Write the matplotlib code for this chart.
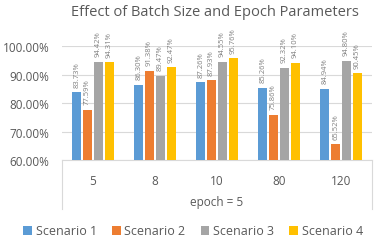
import matplotlib
matplotlib.use("Agg")
import matplotlib.pyplot as plt
import numpy as np

plt.rcParams['font.family'] = ['Open Sans', 'DejaVu Sans']

categories = ["5", "8", "10", "80", "120"]
series_names = ["Scenario 1", "Scenario 2", "Scenario 3", "Scenario 4"]
s1 = [83.73, 86.30, 87.26, 85.26, 84.94]
s2 = [77.59, 91.38, 87.93, 75.86, 65.52]
s3 = [94.42, 89.47, 94.55, 92.32, 94.80]
s4 = [94.31, 92.47, 95.76, 94.10, 90.45]
labels = [
    ["83.73%", "86.30%", "87.26%", "85.26%", "84.94%"],
    ["77.59%", "91.38%", "87.93%", "75.86%", "65.52%"],
    ["94.42%", "89.47%", "94.55%", "92.32%", "94.80%"],
    ["94.31%", "92.47%", "95.76%", "94.10%", "90.45%"],
]
colors = ["#5B9BD5", "#ED7D31", "#A5A5A5", "#FFC000"]
yticks = [60, 70, 80, 90, 100]

W, H = 383, 253
fig = plt.figure(figsize=(W/100, H/100), dpi=100)
ax = fig.add_axes([62/W, 1-161/H, 310/W, 114/H])

x = np.arange(len(categories))
bw = 0.145
step = 0.175
for i, (vals, c) in enumerate(zip([s1, s2, s3, s4], colors)):
    pos = x + (i - 1.5) * step
    ax.bar(pos, np.array(vals) - 60, bw, bottom=60, color=c, label=series_names[i], zorder=3)
    for p, v, t in zip(pos, vals, labels[i]):
        ax.annotate(t, (p, v), xytext=(0, 4), textcoords='offset points',
                    rotation=90, ha='center', va='bottom', fontsize=5.5,
                    color='#7F7F7F', annotation_clip=False)

ax.set_xlim(-0.5, len(categories) - 0.5)
ax.set_ylim(60, 100)
ax.set_yticks(yticks)
ax.set_yticklabels([f"{v:.2f}%" for v in yticks], fontsize=8.5, color='#595959')
ax.set_xticks(x)
ax.set_xticklabels(categories, fontsize=8.5, color='#595959')
ax.tick_params(axis='both', length=0)
ax.tick_params(axis='x', pad=10)
ax.tick_params(axis='y', pad=9)
ax.grid(axis='y', color='#D9D9D9', linewidth=0.8, zorder=0)
for s in ['top', 'right', 'left']:
    ax.spines[s].set_visible(False)
ax.spines['bottom'].set_color('#D9D9D9')

ext = -(210 - 161) / 114
for xa in [0, 1]:
    ax.plot([xa, xa], [0, ext], transform=ax.transAxes, color='#D9D9D9',
            linewidth=0.8, clip_on=False)
ax.text(0.5, -(203 - 161) / 114, "epoch = 5", transform=ax.transAxes,
        ha='center', va='center', fontsize=8.5, color='#595959')

fig.text(215/W, 1 - 13/H, "Effect of Batch Size and Epoch Parameters",
         ha='center', va='center', fontsize=10.5, color='#595959')

fig.legend(loc='center', bbox_to_anchor=(193/W, 1 - 232/H), ncol=4, frameon=False,
           fontsize=9, handlelength=0.7, handleheight=0.7, handletextpad=0.3,
           columnspacing=1.2, labelcolor='#595959')

fig.savefig("out.png", dpi=100)
